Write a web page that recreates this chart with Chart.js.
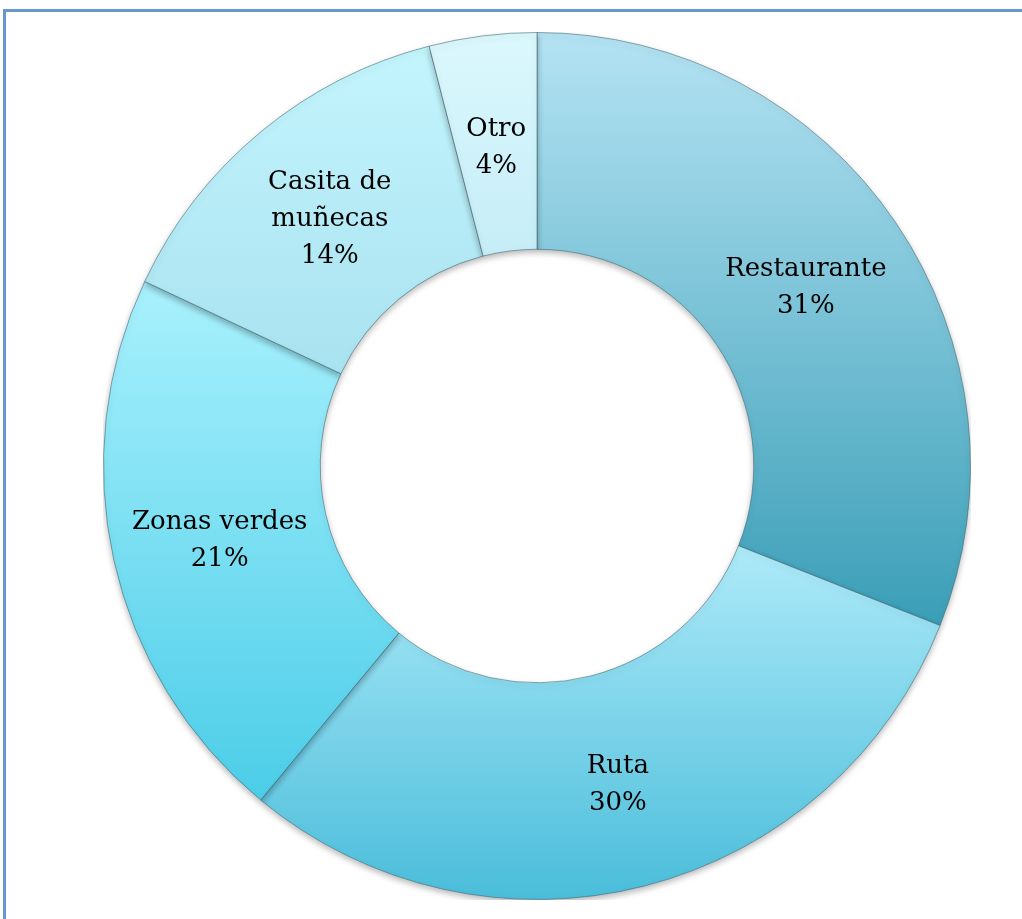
<!DOCTYPE html>
<html>
<head>
<meta charset="utf-8">
<script src="https://cdn.jsdelivr.net/npm/chart.js@4"></script>
<style>
  html, body { margin:0; padding:0; background:#fff; }
  body { width:1022px; height:919px; position:relative; overflow:hidden; }
  #frame { position:absolute; left:3px; top:9px; width:1040px; height:940px;
           border-top:3px solid #6797cc; border-left:3px solid #6797cc; box-sizing:border-box; }
  #wrap { position:absolute; left:103px; top:32px; width:868px; height:868px; }
</style>
</head>
<body>
<div id="frame"></div>
<div id="wrap"><canvas id="c"></canvas></div>
<script>
const categories = ["Restaurante", "Ruta", "Zonas verdes", "Casita de muñecas", "Otro"];
const labelLines = [["Restaurante"], ["Ruta"], ["Zonas verdes"], ["Casita de", "muñecas"], ["Otro"]];
const values = [31, 30, 21, 14, 4];
const topColors = ["#b4e3f3", "#aeeaf9", "#a9f1fd", "#c3f5fd", "#dbf8fd"];
const bottomColors = ["#3a9eb7", "#4abdda", "#4bcde8", "#a9e2f0", "#c6edf7"];

function sliceGradient(ctx) {
  const chart = ctx.chart;
  const area = chart.chartArea;
  if (!area) return topColors[ctx.dataIndex];
  const i = ctx.dataIndex;
  const cx = (area.left + area.right) / 2, cy = (area.top + area.bottom) / 2;
  const R = Math.min(area.right - area.left, area.bottom - area.top) / 2;
  const r = R * 0.5;
  const total = values.reduce((a, b) => a + b, 0);
  let before = 0;
  for (let k = 0; k < i; k++) before += values[k];
  const a0 = -Math.PI / 2 + before / total * 2 * Math.PI;
  const a1 = a0 + values[i] / total * 2 * Math.PI;
  let minY = Infinity, maxY = -Infinity;
  for (let s = 0; s <= 60; s++) {
    const a = a0 + (a1 - a0) * s / 60;
    for (const rad of [r, R]) {
      const y = cy + rad * Math.sin(a);
      minY = Math.min(minY, y); maxY = Math.max(maxY, y);
    }
  }
  const g = chart.ctx.createLinearGradient(0, minY, 0, maxY);
  g.addColorStop(0, topColors[i]);
  g.addColorStop(1, bottomColors[i]);
  return g;
}

const shadowPlugin = {
  id: 'shadow',
  beforeDatasetsDraw(chart) {
    const c = chart.ctx;
    c.save();
    c.shadowColor = 'rgba(0,0,0,0.28)';
    c.shadowBlur = 6;
    c.shadowOffsetY = 3;
  },
  afterDatasetsDraw(chart) {
    chart.ctx.restore();
  }
};

const labelPlugin = {
  id: 'sliceLabels',
  afterDatasetsDraw(chart) {
    const meta = chart.getDatasetMeta(0);
    const total = values.reduce((a, b) => a + b, 0);
    const c = chart.ctx;
    c.save();
    c.fillStyle = '#000';
    c.font = '26px "DejaVu Serif", "Liberation Serif", serif';
    c.textAlign = 'center';
    c.textBaseline = 'middle';
    const lh = 37;
    meta.data.forEach((arc, i) => {
      const p = arc.tooltipPosition();
      const lines = labelLines[i].concat([Math.round(values[i] / total * 100) + "%"]);
      const y0 = p.y + 4 - (lines.length - 1) * lh / 2;
      lines.forEach((t, j) => c.fillText(t, p.x, y0 + j * lh));
    });
    c.restore();
  }
};

new Chart(document.getElementById('c'), {
  type: 'doughnut',
  data: {
    labels: categories,
    datasets: [{
      data: values,
      backgroundColor: sliceGradient,
      borderColor: 'rgba(60,100,112,0.55)',
      borderWidth: 1
    }]
  },
  options: {
    responsive: true,
    maintainAspectRatio: false,
    animation: false,
    cutout: '50%',
    layout: { padding: 0 },
    plugins: { legend: { display: false }, tooltip: { enabled: false } },
    events: []
  },
  plugins: [shadowPlugin, labelPlugin]
});
</script>
</body>
</html>
